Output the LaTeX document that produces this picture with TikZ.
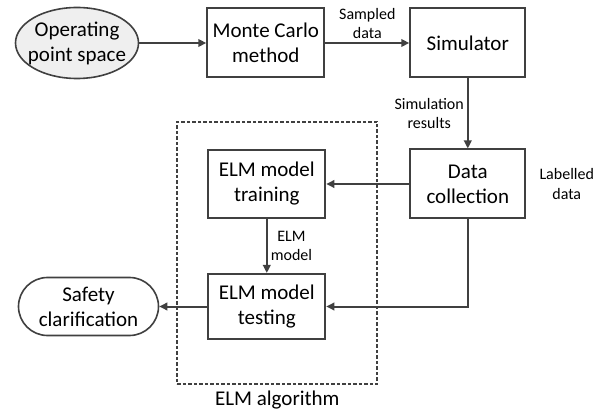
\documentclass[tikz,border=0pt]{standalone}
\usepackage{fontspec}
\setmainfont{Carlito}
\usetikzlibrary{arrows.meta,positioning,fit,calc,shapes.geometric}
\definecolor{lineGray}{HTML}{404040}
\definecolor{fillGray}{HTML}{EFEFEF}

\begin{document}
\begin{tikzpicture}[
    font=\fontsize{21}{25}\selectfont,
    block/.style={
        rectangle,
        draw=lineGray,
        line width=2pt,
        fill=white,
        minimum width=117pt,
        minimum height=69pt,
        inner sep=2pt,
        align=center
    },
    startnode/.style={
        ellipse,
        draw=lineGray,
        line width=1.6pt,
        fill=fillGray,
        minimum width=123pt,
        minimum height=71pt,
        inner xsep=-12pt,
        inner ysep=-4pt,
        align=center
    },
    endnode/.style={
        rectangle,
        rounded corners=29pt,
        draw=lineGray,
        line width=1.6pt,
        fill=white,
        minimum width=140pt,
        minimum height=58pt,
        inner sep=2pt,
        align=center
    },
    note/.style={
        font=\fontsize{16}{19.5}\selectfont,
        align=center,
        inner sep=3pt
    },
    flow/.style={
        -{Triangle[length=8pt,width=7.5pt]},
        line width=2pt,
        draw=lineGray
    }
]
\useasboundingbox (0pt,0pt) rectangle (599pt,-411pt);

% -------------------- Top row -------------------------
\node[startnode] (space) at (77pt,-43pt) {Operating\\point space};
\node[block, right=67pt of space] (monte) {Monte Carlo\\method};
\node[block, right=84pt of monte, minimum width=115pt] (sim) {Simulator};

% -------------------- Right column --------------------
\node[block, below=70pt of sim, minimum width=115pt] (collect) {Data\\collection};
\node[note, right=10pt of collect] (labelled) {Labelled\\data};

% -------------------- ELM algorithm -------------------
\node[block, left=83pt of collect, minimum height=68pt] (train) {ELM model\\training};
\node[block, below=54pt of train, minimum height=65pt] (test) {ELM model\\testing};
\node[endnode, left=48pt of test] (safety) {Safety\\clarification};

% -------------------- Flows ---------------------------
\draw[flow] (space.east) -- (monte.west);
\draw[flow] (monte.east) -- node[note, above] {Sampled\\data} (sim.west);
\draw[flow] (sim.south) -- node[note, left] {Simulation\\results} (collect.north);
\draw[flow] (collect.west) -- (train.east);
\draw[flow] (train.south) -- node[note, right] {ELM\\model} (test.north);
\draw[flow] (collect.south) |- (test.east);
\draw[flow] (test.west) -- (safety.east);

% Dashed algorithm frame
\coordinate (frameNW) at ($(train.north west)+(-30pt,27pt)$);
\coordinate (frameSE) at ($(test.south east)+(51pt,-44pt)$);
\node[
  draw=lineGray,
  line width=1.7pt,
  dash pattern=on 3.5pt off 2pt,
  inner sep=0pt,
  fit=(frameNW) (frameSE)
] (frame) {};
\node[below=3pt of frame] (elmalg) {ELM algorithm};

\end{tikzpicture}
\end{document}
